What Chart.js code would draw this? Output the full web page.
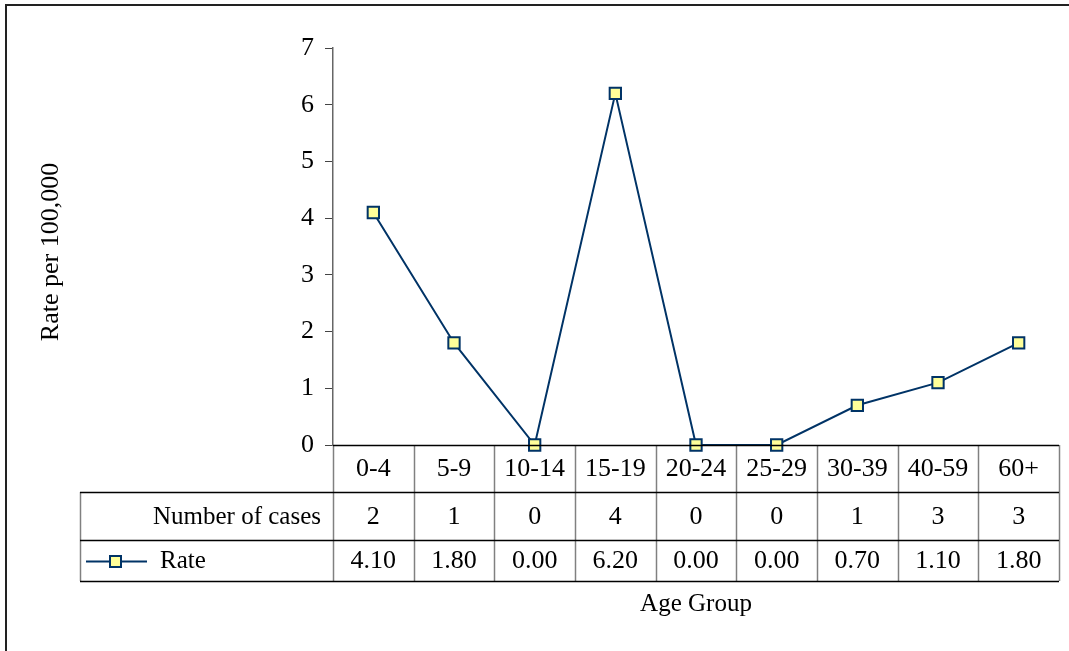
<!DOCTYPE html>
<html>
<head>
<meta charset="utf-8">
<script src="https://cdn.jsdelivr.net/npm/chart.js"></script>
<style>
  html, body { margin: 0; padding: 0; background: #fff; }
  #wrap { width: 1069px; height: 651px; position: relative; }
</style>
</head>
<body>
<div id="wrap"><canvas id="chart"></canvas></div>
<script>
// --- Data ---
const ageGroups = ['0-4', '5-9', '10-14', '15-19', '20-24', '25-29', '30-39', '40-59', '60+'];
const numberOfCases = [2, 1, 0, 4, 0, 0, 1, 3, 3];
const rates = [4.10, 1.80, 0.00, 6.20, 0.00, 0.00, 0.70, 1.10, 1.80];
const yTicks = [0, 1, 2, 3, 4, 5, 6, 7];

// --- Style ---
const FONT = '"Liberation Serif", "Times New Roman", serif';
const NUM_SIZE = 26;   // digits look a bit wider in the original
const WORD_SIZE = 25;
const LINE_COLOR = '#003366';
const MARKER_FILL = '#ffff99';

// Data table + titles + frame, drawn from the x scale positions
const tablePlugin = {
  id: 'dataTable',
  afterDraw(chart) {
    const ctx = chart.ctx;
    const x = chart.scales.x;
    const area = chart.chartArea;
    const top = area.bottom;          // baseline (y = 0)
    const row1 = top + 47;
    const row2 = top + 95;
    const bottom = top + 136;
    const tableLeft = 80;
    const left = area.left;
    const right = area.right;
    const step = (right - left) / ageGroups.length;

    ctx.save();
    ctx.fillStyle = '#000';
    ctx.textBaseline = 'middle';

    // vertical dividers
    ctx.strokeStyle = '#808080';
    ctx.lineWidth = 1.5;
    for (let i = 0; i <= ageGroups.length; i++) {
      const xx = Math.round(left + i * step) + 0.5;
      ctx.beginPath();
      ctx.moveTo(xx, top);
      ctx.lineTo(xx, bottom);
      ctx.stroke();
    }
    ctx.beginPath();
    ctx.moveTo(tableLeft + 0.5, row1);
    ctx.lineTo(tableLeft + 0.5, bottom);
    ctx.stroke();

    // horizontal lines
    ctx.strokeStyle = '#000';
    ctx.lineWidth = 1.5;
    [[left, top], [tableLeft, row1], [tableLeft, row2], [tableLeft, bottom]].forEach(([x0, yy]) => {
      ctx.beginPath();
      ctx.moveTo(x0, Math.round(yy) + 0.5);
      ctx.lineTo(right, Math.round(yy) + 0.5);
      ctx.stroke();
    });

    // cell texts
    ctx.font = `${NUM_SIZE}px ${FONT}`;
    ctx.textAlign = 'center';
    ageGroups.forEach((g, i) => {
      const cx = x.getPixelForValue(i);
      ctx.fillText(g, cx, (top + row1) / 2 + 1);
      ctx.fillText(String(numberOfCases[i]), cx, (row1 + row2) / 2 + 1);
      ctx.fillText(rates[i].toFixed(2), cx, (row2 + bottom) / 2 + 1);
    });

    // row labels
    ctx.font = `${WORD_SIZE}px ${FONT}`;
    ctx.textAlign = 'right';
    ctx.fillText('Number of cases', left - 12, (row1 + row2) / 2 + 1);
    ctx.textAlign = 'left';
    ctx.fillText('Rate', 160, (row2 + bottom) / 2 + 1);

    // legend key
    const ky = (row2 + bottom) / 2 + 1;
    ctx.strokeStyle = LINE_COLOR;
    ctx.lineWidth = 2;
    ctx.beginPath();
    ctx.moveTo(86, ky);
    ctx.lineTo(147, ky);
    ctx.stroke();
    ctx.fillStyle = MARKER_FILL;
    ctx.fillRect(110, ky - 5.5, 11, 11);
    ctx.strokeRect(110, ky - 5.5, 11, 11);

    // axis titles
    ctx.fillStyle = '#000';
    ctx.textAlign = 'center';
    ctx.fillText('Age Group', 696, 604);
    ctx.save();
    ctx.translate(51, 252);
    ctx.rotate(-Math.PI / 2);
    ctx.font = `26px ${FONT}`;
    ctx.fillText('Rate per 100,000', 0, 0);
    ctx.restore();

    // outer frame
    ctx.strokeStyle = '#222';
    ctx.lineWidth = 2;
    ctx.strokeRect(6, 5, 1080, 660);
    ctx.restore();
  }
};

new Chart(document.getElementById('chart'), {
  type: 'line',
  data: {
    labels: ageGroups,
    datasets: [{
      label: 'Rate',
      data: rates,
      borderColor: LINE_COLOR,
      borderWidth: 2,
      tension: 0,
      pointStyle: 'rect',
      pointRadius: 8,
      pointHoverRadius: 8,
      pointBackgroundColor: MARKER_FILL,
      pointBorderColor: LINE_COLOR,
      pointBorderWidth: 2,
      clip: false
    }]
  },
  options: {
    responsive: true,
    maintainAspectRatio: false,
    animation: false,
    layout: { padding: { left: 0, top: 48, right: 10, bottom: 206 } },
    plugins: {
      legend: { display: false },
      tooltip: { enabled: false }
    },
    scales: {
      x: {
        display: false,
        offset: true
      },
      y: {
        min: 0,
        max: 7,
        afterFit: (scale) => { scale.width = 333; },
        afterBuildTicks: (scale) => { scale.ticks = yTicks.map(v => ({ value: v })); },
        border: { display: true, color: '#666', width: 1.5 },
        grid: { drawOnChartArea: false, drawTicks: true, tickLength: 8, color: '#444' },
        ticks: {
          padding: 11,
          color: '#000',
          font: { family: FONT, size: NUM_SIZE }
        }
      }
    }
  },
  plugins: [tablePlugin]
});
</script>
</body>
</html>
